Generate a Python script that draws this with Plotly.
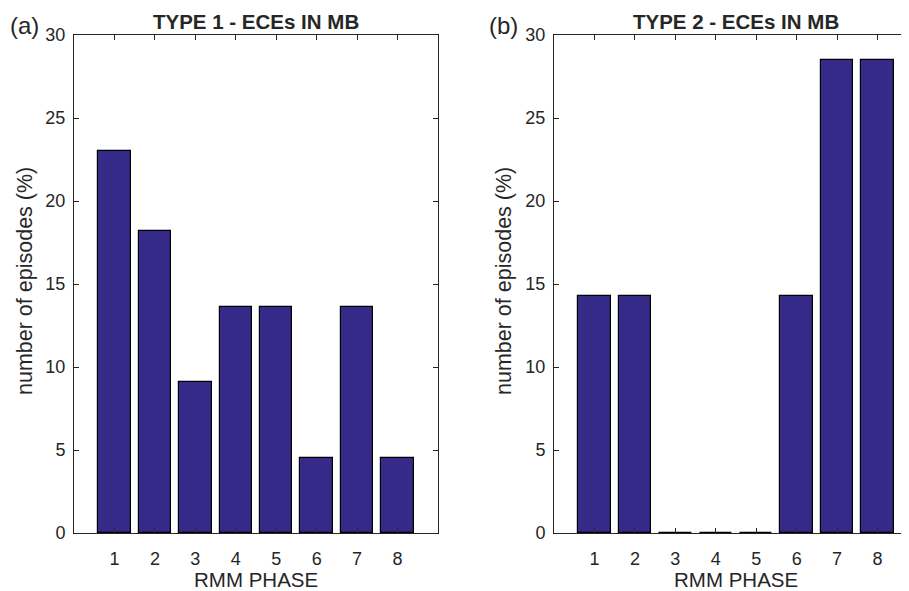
import plotly.graph_objects as go

phases = [1, 2, 3, 4, 5, 6, 7, 8]
type1_pct = [23.0, 18.2, 9.1, 13.6, 13.6, 4.5, 13.6, 4.5]
type2_pct = [14.3, 14.3, 0.0, 0.0, 0.0, 14.3, 28.5, 28.5]
yticks = [0, 5, 10, 15, 20, 25, 30]

BAR = "#352A87"
AX = "#262626"
FONT = "Liberation Sans"

fig = go.Figure()
fig.add_trace(go.Bar(x=phases, y=type1_pct, width=0.8, marker=dict(color=BAR, line=dict(color="black", width=1.2)),
                     xaxis="x", yaxis="y", showlegend=False))
fig.add_trace(go.Bar(x=phases, y=type2_pct, width=0.8, marker=dict(color=BAR, line=dict(color="black", width=1.2)),
                     xaxis="x2", yaxis="y2", showlegend=False))

W, H = 909, 591
OFF = 8  # page body margin offset
def px(x):
    return (x - OFF) / W
def py(y):
    return 1 - (y - OFF) / H

yd = [py(533), py(35)]
x1d = [px(74), px(438)]
x2d = [px(554), 1.0]
x2max = 9 * (W - (554 - OFF)) / 364.0

common_x = dict(tickvals=phases, ticks="inside", ticklen=5, tickcolor=AX, showline=True, linecolor=AX,
                linewidth=1, showgrid=False, zeroline=False, tickfont=dict(family=FONT, size=18, color=AX),
                ticklabelstandoff=9, automargin=False)
common_y = dict(range=[0, 30], tickvals=yticks, ticks="inside", ticklen=5, tickcolor=AX, showline=True,
                linecolor=AX, linewidth=1, showgrid=False, zeroline=False,
                tickfont=dict(family=FONT, size=18, color=AX), ticklabelstandoff=4, domain=yd, automargin=False)

fig.update_layout(
    width=W, height=H, margin=dict(l=0, r=0, t=0, b=0, autoexpand=False),
    plot_bgcolor="white", paper_bgcolor="white", bargap=0,
    xaxis=dict(domain=x1d, range=[0, 9], anchor="y", mirror="ticks", **common_x),
    yaxis=dict(anchor="x", mirror="ticks", **common_y),
    xaxis2=dict(domain=x2d, range=[0, x2max], anchor="y2", mirror="ticks", **common_x),
    yaxis2=dict(anchor="x2", mirror="ticks", **common_y),
)

ann = []
def a(text, x, y, size, bold=False, angle=0, xanchor="center", yanchor="middle"):
    ann.append(dict(text=("<b>%s</b>" % text) if bold else text, x=px(x), y=py(y), xref="paper", yref="paper",
                    showarrow=False, textangle=angle, xanchor=xanchor, yanchor=yanchor,
                    font=dict(family=FONT, size=size, color=AX)))

a("TYPE 1 - ECEs IN MB", 256, 22, 20.5, bold=True)
a("TYPE 2 - ECEs IN MB", 736, 22, 20.5, bold=True)
a("(a)", 8, 25, 24, xanchor="left")
a("(b)", 487, 25, 24, xanchor="left")
a("number of episodes (%)", 25, 281, 21.5, angle=-90)
a("number of episodes (%)", 504, 281, 21.5, angle=-90)
a("RMM PHASE", 256, 579, 20.5)
a("RMM PHASE", 736, 579, 20.5)
fig.update_layout(annotations=ann)

fig.write_html("out.html")
